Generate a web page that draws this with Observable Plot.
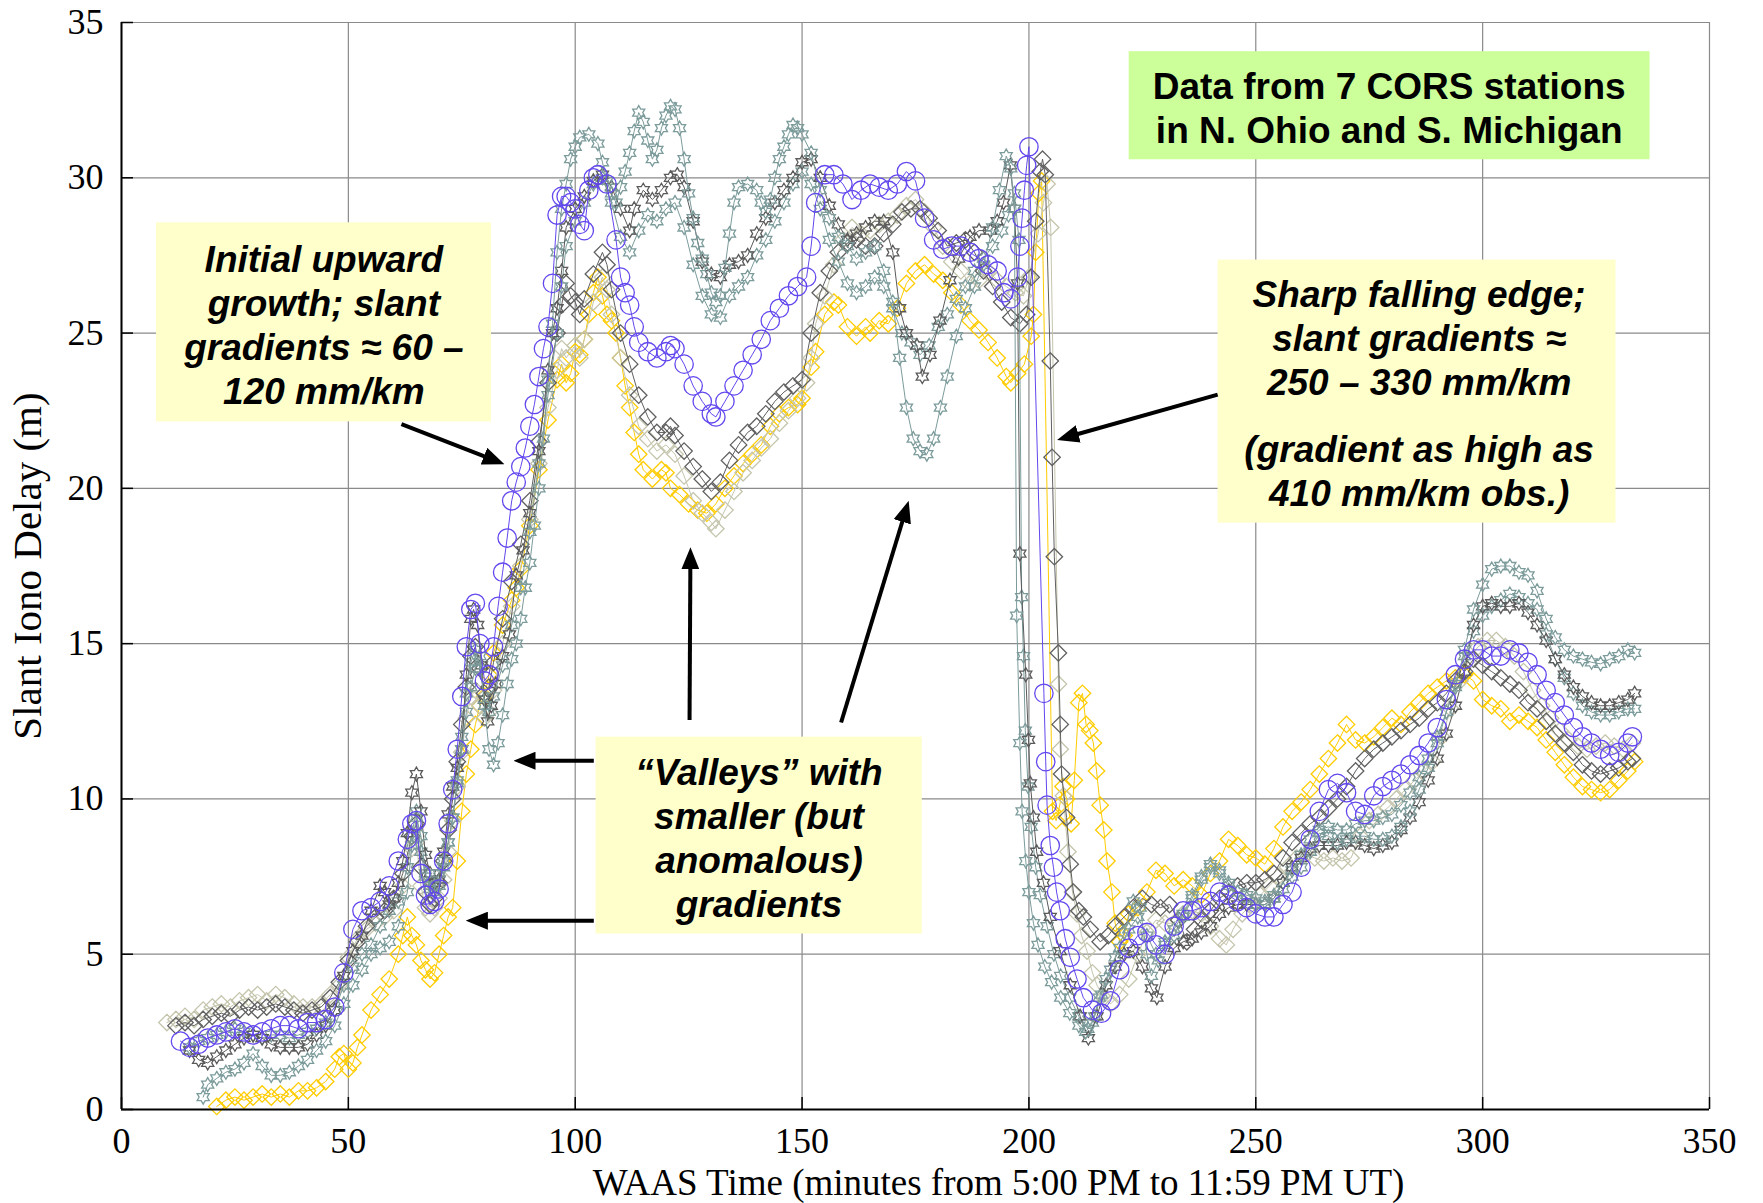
<!DOCTYPE html>
<html>
<head>
<meta charset="utf-8">
<script src="https://cdn.jsdelivr.net/npm/d3@7"></script>
<script src="https://cdn.jsdelivr.net/npm/@observablehq/plot@0.6"></script>
<style>
  html, body { margin: 0; padding: 0; background: #fff; }
  #chart { width: 1763px; height: 1203px; }
</style>
</head>
<body>
<div id="chart"></div>
<script>
// ---------------- DATA ----------------
const xTicks = [0, 50, 100, 150, 200, 250, 300, 350];
const yTicks = [0, 5, 10, 15, 20, 25, 30, 35];
const xLabel = "WAAS Time (minutes from 5:00 PM to 11:59 PM UT)";
const yLabel = "Slant Iono Delay (m)";

// [minute, slant delay m]
const blueCircles = [[13,2.2],[15,2.0],[17,2.1],[19,2.3],[21,2.4],[23,2.5],[25,2.6],[27,2.5],[29,2.4],[31,2.5],[33,2.6],[35,2.7],[37,2.7],[39,2.6],[41,2.8],[43,2.8],[45,2.9],[47,3.3],[49,4.4],[51,5.8],[53,6.4],[55,6.5],[57,6.7],[59,7.2],[61,8.0],[63,8.7],[64,9.2],[65,9.3],[66,7.6],[67,6.9],[68,6.6],[69,6.7],[70,7.1],[71,8.0],[72,9.2],[73,10.3],[74,11.6],[75,13.3],[76,14.9],[77,16.1],[78,16.3],[79,15.0],[80,13.8],[81,14.0],[82,14.9],[83,16.2],[84,17.3],[85,18.4],[86,19.6],[87,20.2],[88,20.7],[89,21.3],[90,22.0],[91,22.7],[92,23.6],[93,24.5],[94,25.2],[95,26.6],[96,28.8],[97,29.4],[98,29.4],[99,29.2],[100,29.0],[101,28.5],[102,28.3],[103,29.6],[104,30.0],[105,30.1],[107,29.8],[109,28.0],[110,26.8],[111,26.3],[112,25.9],[113,25.2],[114,24.7],[116,24.4],[118,24.2],[120,24.4],[121,24.6],[122,24.5],[124,24.0],[126,23.3],[128,22.8],[130,22.4],[131,22.3],[133,22.8],[135,23.3],[137,23.8],[139,24.3],[141,24.8],[143,25.4],[145,25.8],[147,26.2],[149,26.5],[151,26.8],[152,27.8],[153,29.2],[155,30.1],[157,30.1],[159,29.8],[161,29.3],[163,29.6],[165,29.8],[167,29.7],[169,29.6],[171,29.8],[173,30.2],[175,29.9],[177,28.7],[179,28.0],[181,27.7],[183,27.8],[185,27.8],[187,27.6],[189,27.4],[191,27.2],[193,27.0],[194.5,26.3],[196,26.1],[197.5,26.8],[198,27.8],[198.5,28.7],[199,29.6],[199.5,30.4],[200,31.0],[203.3,13.4],[203.7,11.2],[204,9.8],[204.7,8.5],[205.4,7.8],[206.1,7.0],[206.9,6.4],[208,5.5],[209.1,4.9],[210.6,4.2],[212,3.6],[214,3.2],[216,3.1],[218,3.5],[220,4.5],[222,5.2],[224,5.6],[226,5.7],[228,5.3],[230,5.0],[232,5.9],[234,6.4],[236,6.4],[238,6.5],[240,6.7],[242,7.0],[244,6.9],[246,6.7],[248,6.5],[250,6.3],[252,6.2],[254,6.2],[256,6.6],[258,7.0],[260,7.8],[262,8.7],[264,9.6],[266,10.3],[268,10.5],[270,10.2],[272,9.6],[274,9.5],[276,10.1],[278,10.4],[280,10.6],[282,10.8],[284,11.1],[286,11.4],[288,11.8],[290,12.3],[292,13.2],[294,14.0],[296,14.5],[298,14.8],[300,14.8],[302,14.6],[304,14.6],[306,14.8],[308,14.7],[310,14.4],[312,14.0],[314,13.5],[316,13.1],[318,12.7],[320,12.3],[322,12.0],[324,11.8],[326,11.6],[328,11.4],[330,11.5],[332,11.8],[333,12.0]];

const yellowDiamonds = [[21,0.1],[23,0.3],[25,0.4],[27,0.3],[29,0.4],[31,0.5],[33,0.4],[35,0.5],[37,0.4],[39,0.6],[41,0.6],[43,0.7],[45,0.9],[47,1.3],[48,1.7],[49,1.8],[50,1.3],[51,1.5],[52,2.0],[53,2.4],[55,3.2],[57,3.7],[59,4.2],[61,5.0],[62,5.6],[63,6.2],[64,5.6],[65,5.3],[66,4.8],[67,4.5],[68,4.2],[69,4.4],[70,5.0],[71,5.6],[72,6.2],[73,6.5],[74,8.0],[75,9.6],[76,10.8],[77,11.6],[78,12.4],[79,13.0],[80,13.3],[81,14.0],[82,14.7],[84,15.6],[86,16.4],[87,16.8],[88,17.4],[90,18.8],[92,20.6],[94,22.2],[96,23.5],[97,24.0],[98,23.4],[99,23.7],[100,24.4],[101,24.3],[102,24.8],[103,25.6],[104,26.3],[105,26.8],[106,26.2],[107,25.6],[108,25.4],[109,25.0],[110,24.2],[111,23.3],[112,22.6],[113,21.8],[114,21.1],[115,20.6],[117,20.3],[119,20.6],[120,20.5],[121,20.0],[123,19.8],[125,19.5],[127,19.3],[129,19.2],[131,19.5],[133,20.0],[135,20.4],[137,20.8],[139,21.1],[141,21.4],[143,22.0],[145,22.4],[147,22.6],[149,22.7],[150,22.9],[152,23.9],[153,24.4],[155,25.6],[157,26.0],[158,25.9],[160,25.2],[162,24.9],[164,25.2],[165,25.0],[167,25.4],[169,25.3],[171,25.8],[173,26.6],[175,27.0],[177,27.2],[179,26.9],[181,26.7],[183,26.3],[185,25.9],[187,25.4],[189,25.1],[191,24.7],[193,24.2],[195,23.6],[196,23.4],[197.5,23.7],[199,24.0],[200.5,24.9],[201,25.6],[201.5,27.6],[202.2,29.5],[202.8,29.9],[205.2,9.6],[206,9.3],[206.8,9.8],[207.5,10.4],[208.3,10.0],[209.3,9.2],[210,10.6],[211,13.1],[211.8,13.4],[212.6,12.4],[213.4,12.2],[214.2,11.8],[214.9,10.9],[215.7,9.8],[216.5,9.0],[217.2,8.0],[218.3,7.0],[219,6.0],[220,5.4],[221,5.6],[222,6.3],[224,6.5],[226,7.0],[228,7.7],[230,7.6],[232,7.2],[234,7.4],[236,7.2],[238,6.9],[240,7.6],[242,8.0],[244,8.7],[246,8.5],[248,8.2],[250,8.1],[252,7.9],[254,8.4],[256,9.1],[258,9.6],[260,9.9],[262,10.3],[264,10.8],[266,11.3],[268,11.8],[270,12.4],[272,11.9],[274,11.8],[276,12.0],[278,12.3],[280,12.6],[282,12.4],[284,12.8],[286,13.1],[288,13.4],[290,13.6],[292,13.8],[294,13.9],[296,14.0],[298,13.8],[300,13.2],[302,13.0],[304,12.9],[306,12.5],[308,12.7],[310,12.5],[312,12.3],[314,11.9],[316,11.5],[318,11.1],[320,10.7],[322,10.4],[324,10.3],[326,10.2],[328,10.3],[330,10.6],[332,10.9],[333.5,11.2]];

const beigeDiamonds = [[10,2.8],[12,2.9],[14,3.0],[16,2.9],[18,3.2],[20,3.3],[22,3.4],[24,3.3],[26,3.5],[28,3.6],[30,3.7],[32,3.5],[34,3.7],[36,3.6],[38,3.4],[40,3.3],[42,3.3],[44,3.4],[46,3.7],[48,4.0],[50,4.9],[52,5.5],[54,5.8],[56,6.0],[58,6.2],[60,6.4],[62,7.2],[64,8.4],[65,8.6],[66,7.2],[67,6.5],[68,6.3],[69,6.5],[70,6.8],[71,7.4],[72,8.3],[73,9.3],[74,10.4],[75,11.5],[76,12.6],[77,13.3],[78,13.5],[79,13.0],[80,12.6],[81,12.8],[82,13.5],[84,15.0],[86,16.2],[88,17.5],[90,19.0],[92,20.8],[94,22.6],[96,23.8],[97,24.5],[98,24.2],[100,24.6],[101,24.2],[102,24.8],[104,26.0],[106,26.8],[107,26.4],[108,25.6],[110,24.2],[112,23.0],[114,22.0],[116,21.6],[118,21.2],[120,21.4],[122,21.1],[124,20.4],[126,19.6],[128,19.2],[130,18.9],[131,18.7],[133,19.3],[135,19.9],[137,20.5],[139,20.9],[141,21.3],[143,21.6],[145,22.1],[147,22.5],[149,22.9],[151,23.4],[152,24.2],[153,25.3],[155,26.2],[157,27.2],[159,28.0],[161,28.4],[163,28.2],[165,28.3],[167,28.5],[169,28.6],[171,28.8],[173,29.1],[175,29.3],[177,28.9],[179,28.4],[181,27.8],[183,27.3],[185,27.0],[187,26.6],[189,26.7],[191,27.0],[193,26.7],[195,26.5],[197,26.3],[198.8,26.2],[200,26.8],[202,28.2],[203.2,29.2],[204,29.8],[204.8,28.4],[206.5,13.7],[206.9,11.6],[207.6,10.1],[208.6,8.3],[209.6,7.0],[210.6,6.3],[211.6,5.6],[212.8,5.1],[214,4.4],[215,4.0],[216.5,3.6],[218,3.4],[220,3.7],[222,4.2],[224,5.0],[226,5.7],[228,6.1],[230,6.0],[232,6.0],[234,6.3],[236,6.4],[238,6.3],[240,5.9],[242,5.5],[243.5,5.3],[245,5.8],[247,6.3],[249,6.6],[251,6.9],[253,7.2],[255,7.5],[257,7.8],[259,8.1],[261,8.2],[263,8.1],[265,8.0],[267,8.1],[269,8.0],[271,8.1],[273,8.8],[275,9.3],[277,9.5],[279,9.7],[281,10.0],[283,10.3],[285,10.6],[287,10.9],[289,11.2],[291,12.0],[293,12.9],[295,13.8],[297,14.5],[299,14.9],[301,15.1],[303,15.1],[305,14.9],[307,14.6],[309,14.1],[311,13.5],[313,13.0],[315,12.6],[317,12.2],[319,11.9],[321,11.7],[323,11.6],[325,11.7],[327,11.8],[329,11.7],[331,11.6],[333,11.8]];

const grayDiamonds = [[12,2.7],[14,2.8],[16,2.7],[18,2.9],[20,3.0],[22,3.1],[24,3.0],[26,3.2],[28,3.3],[30,3.2],[32,3.3],[34,3.4],[36,3.3],[38,3.2],[40,3.1],[42,3.2],[44,3.3],[46,3.6],[48,4.1],[50,4.8],[52,5.4],[54,5.9],[56,6.2],[58,6.4],[60,6.8],[62,7.6],[64,8.8],[65,9.2],[66,7.8],[67,7.0],[68,6.6],[69,6.8],[70,7.3],[71,8.0],[72,9.0],[73,10.0],[74,11.2],[75,12.4],[76,13.6],[77,14.6],[78,14.9],[79,14.2],[80,13.4],[81,13.6],[82,14.4],[84,15.8],[86,17.0],[88,18.2],[90,19.6],[92,21.5],[94,23.4],[96,25.0],[97,25.9],[98,26.6],[99,26.2],[100,26.0],[101,25.6],[102,26.1],[104,26.9],[106,27.6],[107,27.2],[108,26.4],[110,25.0],[112,24.0],[114,23.0],[116,22.3],[118,21.8],[120,21.8],[121,22.0],[122,21.7],[124,21.2],[126,20.7],[128,20.3],[130,19.9],[132,20.2],[134,20.9],[136,21.4],[138,21.8],[140,22.0],[142,22.4],[144,22.8],[146,23.1],[148,23.3],[150,23.5],[152,25.0],[154,26.3],[156,27.0],[158,27.6],[160,27.9],[162,28.0],[164,27.8],[166,27.8],[168,28.2],[170,28.5],[172,28.9],[174,29.0],[176,29.0],[178,28.7],[180,28.3],[182,27.8],[184,27.9],[186,28.0],[188,27.6],[190,27.0],[192,26.5],[194,26.0],[196,25.5],[198,25.3],[199.5,25.6],[200.5,26.8],[201.5,28.6],[202.5,30.2],[203,30.6],[203.6,30.1],[204.7,24.1],[205.1,21.0],[205.6,17.8],[206.5,14.7],[206.9,12.4],[207.2,10.8],[208.3,9.4],[209.1,7.9],[209.8,7.0],[211,6.4],[212,6.2],[213.5,5.8],[215.7,5.4],[217.5,5.6],[219,5.9],[221,6.2],[223,6.5],[225,6.8],[227,6.6],[229,6.5],[231,6.6],[233,6.1],[234.8,5.4],[236.5,5.8],[238,6.1],[240,6.4],[242,6.8],[244,7.0],[246,7.2],[248,7.3],[250,7.3],[252,7.4],[254,7.6],[256,8.1],[258,8.6],[260,8.9],[262,9.2],[264,9.4],[266,9.7],[268,10.0],[270,10.4],[272,10.9],[274,11.3],[276,11.6],[278,11.8],[280,12.0],[282,12.2],[284,12.4],[286,12.6],[288,12.9],[290,13.1],[292,13.4],[294,13.8],[296,14.1],[298,14.5],[300,14.3],[302,14.1],[304,13.9],[306,13.7],[308,13.5],[310,13.1],[312,12.9],[314,12.5],[316,12.1],[318,11.8],[320,11.5],[322,11.1],[324,10.9],[326,10.8],[328,10.9],[330,11.0],[332,11.2],[333,11.3]];

const grayStars = [[15,1.9],[17,1.6],[19,1.5],[21,1.7],[23,1.9],[25,2.1],[27,2.3],[29,2.4],[31,2.3],[33,2.1],[35,2.0],[37,2.0],[39,2.0],[41,2.1],[43,2.4],[45,2.7],[47,3.2],[49,4.3],[51,5.1],[53,5.6],[55,6.4],[57,7.2],[58,7.0],[59,6.6],[60,6.8],[61,7.3],[62,8.0],[63,8.9],[64,10.2],[65,10.8],[66,9.6],[67,8.2],[68,7.6],[69,7.3],[70,7.4],[71,8.3],[72,9.5],[73,10.4],[74,11.0],[75,11.6],[76,14.0],[77,15.8],[77.6,16.1],[78.5,15.6],[79.3,14.3],[80,13.2],[80.7,12.5],[81.5,13.0],[82.5,13.7],[84,14.6],[85.5,15.3],[87,17.2],[88.5,18.0],[90,19.2],[92,21.2],[94,23.8],[95,25.0],[96,25.8],[97,27.0],[98,28.4],[100,29.0],[102,29.4],[104,29.9],[106,30.1],[108,29.7],[110,29.0],[112,28.3],[113,29.0],[115,29.6],[117,29.3],[119,29.6],[121,30.0],[122.5,30.1],[124,29.7],[126,28.6],[128,27.3],[130,26.9],[132,26.8],[134,27.2],[136,27.3],[138,27.5],[140,28.2],[142,28.7],[144,29.2],[146,29.6],[148,30.0],[150,30.5],[152,30.6],[154,30.0],[156,29.1],[158,28.5],[160,28.0],[162,28.2],[164,28.4],[166,28.6],[168,28.6],[170,27.6],[171.5,25.8],[173,25.0],[175.3,24.6],[176.5,23.6],[178.2,24.3],[180.4,25.4],[182.6,26.7],[184.5,27.4],[187,28.1],[189,28.3],[191.5,28.3],[193,28.6],[194.4,29.2],[195.9,30.4],[196.8,29.0],[197.5,26.6],[198,17.9],[199.3,14.0],[199.9,11.9],[200.3,10.5],[201,9.4],[201.7,8.3],[203.2,7.3],[204.7,6.2],[206.9,5.1],[209.1,4.0],[211.3,3.0],[213.1,2.3],[215,3.0],[217,4.0],[219,4.6],[221,5.0],[223,5.1],[225,4.6],[227,3.9],[228.2,3.6],[230,4.6],[232,5.2],[234,5.4],[236,5.5],[238,5.7],[240,5.9],[242,6.3],[244,6.5],[246,6.6],[248,6.6],[250,6.6],[252,6.6],[254,6.8],[256,7.3],[258,7.8],[260,8.1],[262,8.4],[264,8.5],[266,8.5],[268,8.5],[270,8.6],[272,8.6],[274,8.5],[276,8.4],[278,8.5],[280,8.6],[282,9.0],[284,9.4],[286,9.9],[288,10.6],[290,11.3],[292,12.1],[294,13.0],[296,14.1],[298,15.6],[300,16.2],[302,16.3],[304,16.2],[306,16.2],[308,16.3],[310,16.0],[312,15.6],[314,15.1],[316,14.5],[318,14.0],[320,13.6],[322,13.3],[324,13.1],[326,13.0],[328,13.0],[330,13.1],[332,13.2],[333.5,13.4]];

const tealStarsA = [[18,0.4],[19,0.8],[21,1.0],[23,1.2],[25,1.3],[27,1.5],[29,1.8],[31,1.4],[33,1.1],[35,1.1],[37,1.2],[39,1.4],[41,1.6],[43,1.9],[45,2.2],[47,2.7],[49,3.4],[51,4.0],[53,4.5],[55,5.0],[57,5.2],[59,5.4],[61,5.9],[63,7.0],[64,8.5],[65,9.4],[66,8.8],[67,7.6],[68,7.1],[69,7.2],[70,7.6],[71,8.0],[72,8.6],[73,9.4],[74,10.5],[75,11.6],[76,12.8],[77,13.6],[78,14.2],[79,14.6],[80,13.0],[81,11.6],[82,11.1],[83,11.8],[84,12.7],[85,13.7],[86,14.5],[87,15.0],[88,15.8],[89,16.8],[90,17.6],[91,18.8],[92,20.0],[93,21.6],[94,23.5],[95,25.3],[96,27.6],[97,29.0],[98,29.8],[99,30.6],[100,31.0],[101,31.3],[103,31.4],[105,31.1],[106,30.5],[107,29.9],[108,29.5],[109,29.2],[110,29.7],[111,30.2],[112,30.8],[113,31.5],[114,32.1],[115,31.8],[116,31.2],[117,30.6],[118,30.9],[119,31.6],[120,32.0],[121,32.3],[122,32.2],[123,31.6],[124,30.6],[125,29.5],[126,28.7],[127,27.9],[128,27.4],[129,26.9],[130,26.3],[131,26.0],[132,26.2],[133,27.1],[134,28.2],[135,29.2],[136,29.7],[138,29.8],[140,29.6],[141,29.2],[142,28.9],[143,29.3],[144,30.0],[145,30.6],[146,31.0],[147,31.4],[148,31.7],[149,31.6],[150,31.4],[152,30.8],[154,29.6],[156,28.7],[158,28.1],[160,27.8],[162,27.4],[164,27.6],[166,27.8],[168,27.0],[170,26.0],[171.5,24.2],[173,22.6],[174.5,21.6],[176,21.2],[177.5,21.1],[179,21.6],[180.5,22.6],[182,23.6],[184,24.9],[186,25.8],[188,26.5],[190,27.2],[192,28.4],[193.5,29.6],[195,30.7],[196,30.3],[196.8,29.0],[197.3,15.9],[198,11.8],[198.5,9.6],[199.3,8.0],[200,7.0],[201,6.0],[202,5.3],[203.5,4.6],[205,4.1],[207,3.6],[209,3.1],[211,2.7],[212.5,2.5],[214,2.8],[215.5,3.6],[217,4.2],[219,4.9],[221,5.7],[223,6.7],[224.5,6.5],[226,5.0],[227,4.3],[228.5,4.8],[230,5.4],[232,5.6],[234,6.2],[236,6.8],[238,7.4],[240,7.9],[242,7.7],[244,7.3],[246,7.0],[248,6.8],[250,6.6],[252,6.6],[254,6.8],[256,7.1],[258,7.5],[260,7.8],[262,8.3],[264,8.9],[266,8.8],[268,8.6],[270,8.7],[272,8.8],[274,8.8],[276,8.7],[278,8.7],[280,8.8],[282,9.1],[284,9.6],[286,10.3],[288,11.0],[290,11.8],[292,12.8],[294,13.6],[296,14.8],[298,16.1],[300,16.9],[302,17.4],[304,17.5],[306,17.5],[308,17.3],[310,17.2],[312,16.7],[314,15.8],[316,15.2],[318,14.8],[320,14.6],[322,14.5],[324,14.4],[326,14.35],[328,14.5],[330,14.6],[332,14.8],[333.5,14.7]];

const tealStarsB = [[15,2.0],[17,2.2],[19,2.3],[21,2.4],[23,2.5],[25,2.6],[27,2.5],[29,2.4],[31,2.3],[33,2.4],[35,2.4],[37,2.3],[39,2.4],[41,2.5],[43,2.6],[45,2.8],[47,3.2],[49,4.0],[51,4.6],[53,5.0],[55,5.3],[57,5.9],[59,6.4],[61,6.7],[63,7.8],[64,8.9],[65,9.6],[66,8.3],[67,7.5],[68,7.2],[69,7.0],[70,7.2],[71,7.8],[72,8.6],[73,9.4],[74,10.6],[75,12.0],[76,13.4],[77,14.4],[78,14.8],[79,14.2],[80,13.2],[81,12.8],[82,13.3],[84,14.3],[86,15.6],[88,16.8],[90,18.6],[92,20.8],[94,23.0],[96,25.0],[97,26.5],[98,27.8],[100,28.6],[102,29.2],[104,29.8],[106,30.0],[108,29.2],[110,28.1],[112,27.6],[114,28.3],[116,28.8],[118,28.6],[120,29.0],[122,29.2],[124,28.4],[126,27.2],[128,26.2],[130,25.6],[132,25.5],[134,26.2],[136,26.5],[138,26.8],[140,27.5],[142,28.0],[144,28.6],[146,29.2],[148,29.8],[150,30.2],[152,29.8],[154,29.0],[156,28.0],[158,27.3],[160,26.6],[162,26.3],[164,26.5],[166,26.8],[168,26.5],[170,25.8],[172,25.0],[174,24.7],[176,24.3],[178,24.6],[180,25.2],[182,25.6],[184,26.1],[186,26.5],[188,27.0],[190,27.4],[192,27.8],[194,28.3],[195.5,28.8],[196.8,29.5],[197.8,28.0],[198.4,16.5],[198.8,14.6],[199.2,12.2],[199.8,10.4],[200.5,9.1],[201.5,7.8],[202.5,6.9],[204,5.9],[205.5,5.0],[207,4.3],[209,3.6],[211,3.0],[213,2.6],[214.5,3.0],[216,3.7],[218,4.5],[220,5.2],[222,5.8],[224,6.2],[226,5.6],[228,5.0],[230,5.3],[232,5.8],[234,6.3],[236,6.9],[238,7.5],[240,7.8],[242,7.6],[244,7.2],[246,7.0],[248,6.9],[250,6.8],[252,6.7],[254,6.9],[256,7.3],[258,7.7],[260,8.2],[262,8.7],[264,9.0],[266,9.1],[268,9.0],[270,9.0],[272,9.2],[274,9.3],[276,9.3],[278,9.4],[280,9.5],[282,9.8],[284,10.2],[286,10.7],[288,11.3],[290,12.0],[292,12.8],[294,13.7],[296,14.6],[298,15.4],[300,15.9],[302,16.2],[304,16.4],[306,16.6],[308,16.5],[310,16.3],[312,16.1],[314,15.3],[316,14.5],[318,13.9],[320,13.4],[322,13.0],[324,12.8],[326,12.7],[328,12.7],[330,12.8],[332,12.9],[333.5,12.9]];

// annotation boxes and texts (data units)
const noteBoxes = [
  {x1: 222.1, x2: 336.9, y1: 30.58, y2: 34.06, kind: "green"},
  {x1: 7.7, x2: 81.55, y1: 22.14, y2: 28.55, kind: "yellow"},
  {x1: 241.7, x2: 329.4, y1: 18.88, y2: 27.35, kind: "yellow"},
  {x1: 104.6, x2: 176.5, y1: 5.65, y2: 11.99, kind: "yellow"}
];
const noteTexts = [
  {x: 279.4, y: 32.27, text: "Data from 7 CORS stations\nin N. Ohio and S. Michigan", italic: false},
  {x: 44.6, y: 25.29, text: "Initial upward\ngrowth; slant\ngradients \u2248 60 \u2013\n120 mm/km", italic: true},
  {x: 286.0, y: 24.87, text: "Sharp falling edge;\nslant gradients \u2248\n250 \u2013 330 mm/km", italic: true},
  {x: 286.0, y: 20.58, text: "(gradient as high as\n410 mm/km obs.)", italic: true},
  {x: 140.5, y: 8.77, text: "\u201cValleys\u201d with\nsmaller (but\nanomalous)\ngradients", italic: true}
];
const noteArrows = [
  {x1: 61.7, y1: 22.07, x2: 84.4, y2: 20.78},
  {x1: 241.6, y1: 23.02, x2: 206.2, y2: 21.56},
  {x1: 125.2, y1: 12.54, x2: 125.4, y2: 18.1},
  {x1: 158.6, y1: 12.46, x2: 173.5, y2: 19.6},
  {x1: 104.1, y1: 11.23, x2: 86.4, y2: 11.23},
  {x1: 104.1, y1: 6.08, x2: 75.9, y2: 6.08}
];

// ---------------- STYLE / LAYOUT ----------------
const W = 1763, H = 1203;
const M = {left: 121, right: 54, top: 22, bottom: 94};
const kx = (W - M.left - M.right) / 350, ky = (H - M.top - M.bottom) / 35;

const hexagram = {
  draw(context, size) {
    const R = Math.sqrt(size / Math.PI), r = R / Math.sqrt(3);
    for (let i = 0; i < 12; i++) {
      const a = -Math.PI / 2 + i * Math.PI / 6, rr = i % 2 === 0 ? R : r;
      const px = rr * Math.cos(a), py = rr * Math.sin(a);
      if (i === 0) context.moveTo(px, py); else context.lineTo(px, py);
    }
    context.closePath();
  }
};

const seriesList = [
  {data: yellowDiamonds, color: "#ffcc00", symbol: "diamond2", r: 7.4},
  {data: beigeDiamonds, color: "#c5c5ad", symbol: "diamond2", r: 7.4},
  {data: grayDiamonds, color: "#606060", symbol: "diamond2", r: 7.4},
  {data: tealStarsB, color: "#7c9b9b", symbol: hexagram, r: 7},
  {data: grayStars, color: "#5a5a5a", symbol: hexagram, r: 7},
  {data: tealStarsA, color: "#7c9b9b", symbol: hexagram, r: 7},
  {data: blueCircles, color: "#6347ee", symbol: "circle", r: 9.2}
];

const serif = "'Liberation Serif', 'Times New Roman', serif";
const sans = "'Liberation Sans', Arial, sans-serif";

// shorten arrow shafts so the filled head ends exactly on the tip
const headGap = 7;
const arrowShafts = noteArrows.map(a => {
  const dxp = (a.x2 - a.x1) * kx, dyp = (a.y2 - a.y1) * ky;
  const len = Math.hypot(dxp, dyp), f = (len - headGap) / len;
  return {x1: a.x1, y1: a.y1, x2: a.x1 + (a.x2 - a.x1) * f, y2: a.y1 + (a.y2 - a.y1) * f};
});

const marks = [
  Plot.gridX(xTicks, {stroke: "#8a8a8a", strokeOpacity: 1, strokeWidth: 1.2}),
  Plot.gridY(yTicks, {stroke: "#8a8a8a", strokeOpacity: 1, strokeWidth: 1.2})
];
for (const s of seriesList) {
  marks.push(Plot.line(s.data, {x: d => d[0], y: d => d[1], stroke: s.color, strokeWidth: 1}));
  marks.push(Plot.dot(s.data, {x: d => d[0], y: d => d[1], symbol: s.symbol, r: s.r, stroke: s.color, fill: "none", strokeWidth: 1.3}));
}
const noteFont = {x: "x", y: "y", text: "text", fontFamily: sans, fontWeight: "bold", fontSize: 37, lineHeight: 1.19, fill: "#000", lineAnchor: "middle"};
marks.push(
  Plot.ruleX([0], {stroke: "#000", strokeWidth: 2}),
  Plot.ruleY([0], {stroke: "#000", strokeWidth: 2}),
  Plot.ruleX(xTicks, {y1: 0, y2: 12 / ky, stroke: "#000", strokeWidth: 1.5}),
  Plot.ruleY(yTicks, {x1: 0, x2: 12 / kx, stroke: "#000", strokeWidth: 1.5}),
  Plot.axisX(xTicks, {tickSize: 0, tickPadding: 18, fontSize: 36, fontFamily: serif, label: null}),
  Plot.axisY(yTicks, {tickSize: 0, tickPadding: 18, fontSize: 36, fontFamily: serif, label: null}),
  Plot.rect(noteBoxes, {x1: "x1", x2: "x2", y1: "y1", y2: "y2", fill: d => d.kind === "green" ? "#ccff99" : "#ffffcc"}),
  Plot.text(noteTexts.filter(d => !d.italic), {...noteFont, fontStyle: "normal"}),
  Plot.text(noteTexts.filter(d => d.italic), {...noteFont, fontStyle: "italic"}),
  Plot.link(arrowShafts, {x1: "x1", y1: "y1", x2: "x2", y2: "y2", stroke: "#000", strokeWidth: 4, className: "anno-arrow"}),
  Plot.text([xLabel], {text: d => d, frameAnchor: "bottom", dx: 83, dy: 74, lineAnchor: "middle", textAnchor: "middle", fontSize: 37, fontFamily: serif, fill: "#000"}),
  Plot.text([yLabel], {text: d => d, frameAnchor: "left", dx: -94, rotate: -90, lineAnchor: "middle", textAnchor: "middle", fontSize: 41, fontFamily: serif, fill: "#000"})
);

const chart = Plot.plot({
  width: W, height: H,
  marginLeft: M.left, marginRight: M.right, marginTop: M.top, marginBottom: M.bottom,
  x: {domain: [0, 350]},
  y: {domain: [0, 35]},
  style: {fontFamily: serif, fontSize: "36px", background: "#fff", color: "#000"},
  marks
});

// filled arrowheads
const svg = d3.select(chart.tagName.toLowerCase() === "svg" ? chart : chart.querySelector("svg"));
svg.append("defs").append("marker")
  .attr("id", "anno-head").attr("markerUnits", "userSpaceOnUse")
  .attr("viewBox", "0 -9 22 18").attr("refX", 22 - headGap).attr("refY", 0)
  .attr("markerWidth", 22).attr("markerHeight", 18).attr("orient", "auto")
  .append("path").attr("d", "M0,-9L22,0L0,9Z").attr("fill", "#000");
svg.selectAll(".anno-arrow path").attr("marker-end", "url(#anno-head)");

document.getElementById("chart").appendChild(chart);
</script>
</body>
</html>
